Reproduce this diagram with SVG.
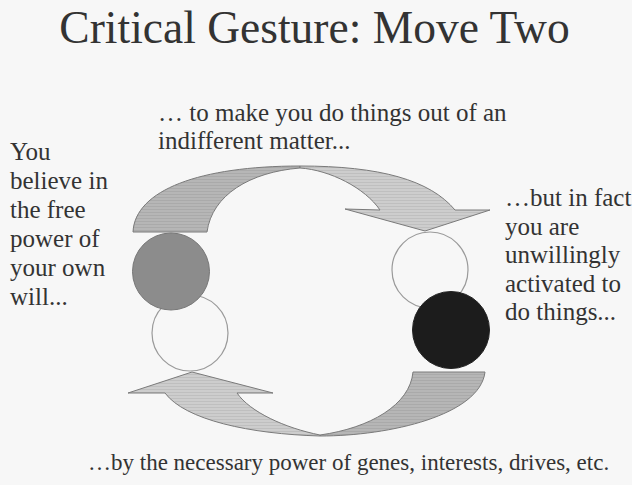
<svg xmlns="http://www.w3.org/2000/svg" width="632" height="485" viewBox="0 0 632 485">
<style>
.t{font-size:25px}
.arr{stroke:#7a7a7a;stroke-width:1;stroke-linejoin:round}
.ring{fill:none;stroke:#9a9a9a;stroke-width:1.2}
</style>
<defs>
<pattern id="hd" width="4" height="3" patternUnits="userSpaceOnUse">
<rect width="4" height="3" fill="#b6b6b6"/><rect y="2" width="4" height="1" fill="#aaaaaa"/>
</pattern>
<pattern id="hl" width="4" height="3" patternUnits="userSpaceOnUse">
<rect width="4" height="3" fill="#cdcdcd"/><rect y="2" width="4" height="1" fill="#bfbfbf"/>
</pattern>
</defs>
<rect width="632" height="485" fill="#f7f7f7"/>
<g font-family="'Times New Roman', 'Liberation Serif', serif" fill="#333">
<text x="314.5" y="43" text-anchor="middle" font-size="45.5">Critical Gesture: Move Two</text>
<g id="top-label">
<text class="t" x="158" y="121">… to make you do things out of an</text>
<text class="t" x="158" y="149">indifferent matter...</text>
</g>
<g id="left-label">
<text class="t" x="10" y="160">You</text>
<text class="t" x="10" y="189">believe in</text>
<text class="t" x="10" y="218">the free</text>
<text class="t" x="10" y="247">power of</text>
<text class="t" x="10" y="276">your own</text>
<text class="t" x="10" y="305">will...</text>
</g>
<g id="right-label">
<text class="t" x="505" y="206">…but in fact</text>
<text class="t" x="505" y="235">you are</text>
<text class="t" x="505" y="263">unwillingly</text>
<text class="t" x="505" y="292">activated to</text>
<text class="t" x="505" y="320">do things...</text>
</g>
<g id="bottom-label">
<text x="88" y="470" font-size="23">…by the necessary power of genes, interests, drives, etc.</text>
</g>
</g>
<g id="connectors">
<path class="arr" fill="url(#hd)" d="M133,232 C135,190 200,166 300,166 L300,168 C250,172 212,195 207,232 Z"/>
<path class="arr" fill="url(#hl)" d="M300,166 C380,166 430,180 455,210 L490,210 L425,231 L345,209 L380,210 C365,188 330,170 300,168 Z"/>
<path class="arr" fill="url(#hd)" d="M413,372 L485,372 C480,415 390,436 320,436 L320,435 C370,428 410,405 413,372 Z"/>
<path class="arr" fill="url(#hl)" d="M320,436 C250,434 185,420 165,393 L128,393 L192,372 L273,393 L237,393 C250,412 285,428 320,435 Z"/>
</g>
<g id="node-left-free">
<circle class="ring" cx="190" cy="333" r="38"/>
</g>
<g id="node-left-will">
<circle cx="171" cy="271.5" r="38.5" fill="#8c8c8c" stroke="#777" stroke-width="1"/>
</g>
<g id="node-right-free">
<circle class="ring" cx="430" cy="270" r="38"/>
</g>
<g id="node-right-activated">
<circle cx="451" cy="330" r="38.5" fill="#1c1c1c" stroke="#222" stroke-width="1"/>
</g>
</svg>
